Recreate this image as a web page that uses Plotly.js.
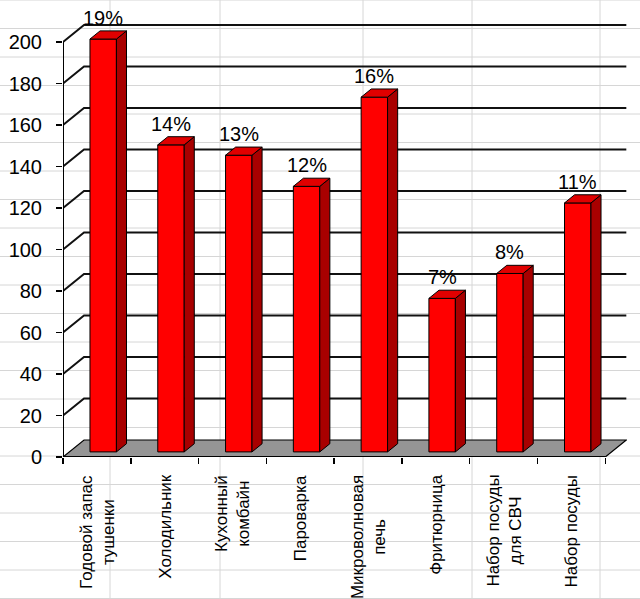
<!DOCTYPE html>
<html>
<head>
<meta charset="utf-8">
<script src="https://cdn.plot.ly/plotly-3.0.1.min.js"></script>
<style>html,body{margin:0;padding:0;background:#fff;}#chart{width:640px;height:599px;}</style>
</head>
<body>
<div id="chart"></div>
<script>
// ---- data ----
const categories = ['Годовой запас<br>тушенки', 'Холодильник', 'Кухонный<br>комбайн', 'Пароварка',
                    'Микроволновая<br>печь', 'Фритюрница', 'Набор посуды<br>для СВЧ', 'Набор посуды'];
const values = [199, 148, 143, 128, 171, 74, 86, 120];
const yTicks = [0, 20, 40, 60, 80, 100, 120, 140, 160, 180, 200];

// ---- pseudo-3D geometry (in axis units) ----
const DX = 0.31, DY = 8.2;     // full depth offset of the floor / walls
const F0 = 0.3, BD = 0.48;     // bar front-face depth fraction, bar depth fraction
const BW = 0.39;               // bar width
const XMIN = -0.5, XMAX = 7.82, YMAX = 209.2;
const n = categories.length;

const total = values.reduce((a, b) => a + b, 0);
const pctLabels = values.map(v => Math.round(v / total * 100) + '%');

const xs = values.map((v, i) => i + F0 * DX);
const base = F0 * DY;

// side and top faces
const sideX = [], sideY = [], topX = [], topY = [];
values.forEach((v, i) => {
  const xl = xs[i] - BW / 2, xr = xs[i] + BW / 2, top = base + v;
  const ox = BD * DX, oy = BD * DY;
  sideX.push(xr, xr + ox, xr + ox, xr, xr, null);
  sideY.push(base, base + oy, top + oy, top, base, null);
  topX.push(xl, xr, xr + ox, xl + ox, xl, null);
  topY.push(top, top, top + oy, top + oy, top, null);
});

const traces = [
  {type: 'bar', x: xs, y: values, base: base, width: BW,
   marker: {color: '#ff0000', line: {color: '#000', width: 1}}, hoverinfo: 'skip', showlegend: false},
  {type: 'scatter', mode: 'lines', x: sideX, y: sideY, fill: 'toself', fillcolor: '#a80000',
   line: {color: '#000', width: 1}, hoverinfo: 'skip', showlegend: false},
  {type: 'scatter', mode: 'lines', x: topX, y: topY, fill: 'toself', fillcolor: '#e00000',
   line: {color: '#000', width: 1}, hoverinfo: 'skip', showlegend: false}
];

// ---- spreadsheet background grid (pixels -> paper) ----
const PL = 63, PR = 627, PT = 23, PB = 457;
const px2x = p => (p - PL) / (PR - PL);
const py2y = p => (PB - p) / (PB - PT);
const sheetCols = [110, 220, 363, 472, 600];
const shapes = [];
sheetCols.forEach(c => shapes.push({type: 'line', xref: 'paper', yref: 'paper', layer: 'below',
  x0: px2x(c), x1: px2x(c), y0: py2y(0), y1: py2y(599), line: {color: '#d6d6d6', width: 1}}));
for (let r = 0; r <= 21; r++) {
  const p = 28.5 * r;
  shapes.push({type: 'line', xref: 'paper', yref: 'paper', layer: 'below',
    x0: px2x(0), x1: px2x(640), y0: py2y(p), y1: py2y(p), line: {color: '#d6d6d6', width: 1}});
}

// ---- walls: side-wall diagonals + back-wall gridlines ----
yTicks.filter(v => v > 0).forEach(v => {
  shapes.push({type: 'path', xref: 'x', yref: 'y', layer: 'below',
    path: `M ${XMIN},${v} L ${XMIN + DX},${v + DY} L ${n - 0.5 + DX},${v + DY}`,
    line: {color: '#111', width: 2}});
});
// floor
shapes.push({type: 'path', xref: 'x', yref: 'y', layer: 'below',
  path: `M ${XMIN},0 L ${n - 0.5},0 L ${n - 0.5 + DX},${DY} L ${XMIN + DX},${DY} Z`,
  fillcolor: '#959595', line: {color: '#000', width: 1.2}});
// front axis lines
shapes.push({type: 'line', xref: 'x', yref: 'y', layer: 'below',
  x0: XMIN, x1: XMIN, y0: 0, y1: yTicks[yTicks.length - 1], line: {color: '#000', width: 2}});
shapes.push({type: 'line', xref: 'x', yref: 'y', layer: 'below',
  x0: XMIN, x1: n - 0.5, y0: 0, y1: 0, line: {color: '#000', width: 2}});

// ---- annotations: percentages and category labels ----
const FONT = 'Arial, "Liberation Sans", sans-serif';
const annotations = [];
values.forEach((v, i) => {
  annotations.push({xref: 'x', yref: 'y', x: xs[i], y: base + v, text: pctLabels[i], showarrow: false,
    xanchor: 'center', yanchor: 'bottom', yshift: 8, font: {family: FONT, size: 20, color: '#000'}});
  annotations.push({xref: 'x', yref: 'y', x: i, y: 0, text: categories[i], showarrow: false,
    textangle: -90, align: 'center', xanchor: 'center', yanchor: 'top', yshift: -16,
    font: {family: FONT, size: 17, color: '#000'}});
});

const boundaries = [];
for (let i = 0; i <= n; i++) boundaries.push(i - 0.5);

const layout = {
  width: 640, height: 599,
  margin: {l: PL, r: 640 - PR, t: PT, b: 599 - PB, pad: 0},
  paper_bgcolor: '#ffffff', plot_bgcolor: 'rgba(0,0,0,0)',
  showlegend: false,
  xaxis: {range: [XMIN, XMAX], showgrid: false, zeroline: false, showline: false,
          tickvals: boundaries, ticktext: boundaries.map(() => ''), ticks: 'outside', ticklen: 6,
          tickcolor: '#000', tickwidth: 1.5, fixedrange: true},
  yaxis: {range: [0, YMAX], showgrid: false, zeroline: false, showline: false,
          tickvals: yTicks, ticktext: yTicks.map(String), ticks: 'outside', ticklen: 6,
          tickcolor: '#000', tickwidth: 1.5, ticklabelstandoff: 10,
          tickfont: {family: FONT, size: 20, color: '#000'}, fixedrange: true},
  shapes: shapes,
  annotations: annotations,
  bargap: 0
};

Plotly.newPlot('chart', traces, layout, {displayModeBar: false, staticPlot: true});
</script>
</body>
</html>
